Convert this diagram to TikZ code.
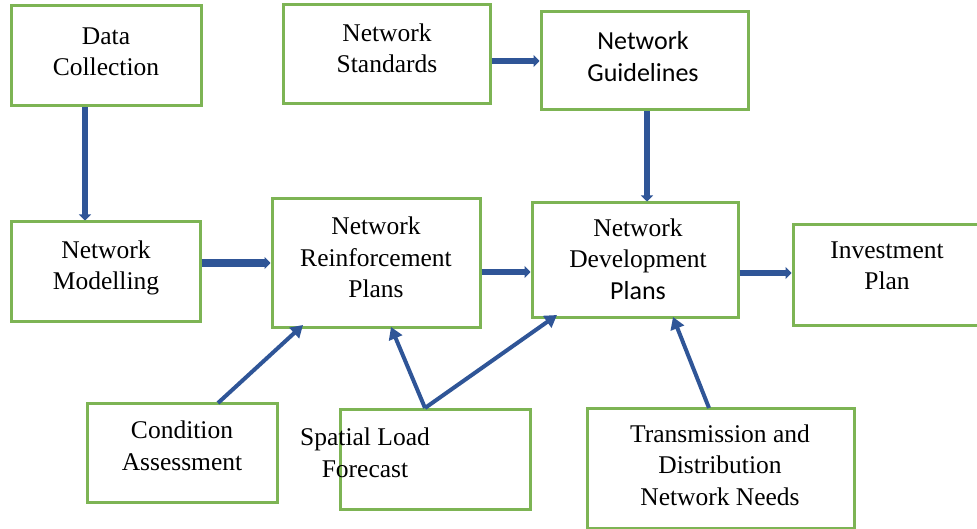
\documentclass[tikz,border=0pt]{standalone}
\usepackage{fontspec}
\setmainfont{Liberation Serif}
\newfontfamily\calfont{Carlito}
\usetikzlibrary{arrows.meta}
\definecolor{boxgreen}{HTML}{7DB454}
\definecolor{arrblue}{HTML}{2F5597}
\tikzset{
  box/.style={draw=boxgreen, line width=3pt, inner sep=0pt, rectangle},
  txt/.style={align=center, anchor=base, inner sep=0pt, font=\fontsize{25.5}{31.5}\selectfont},
  ctxt/.style={align=center, anchor=base, inner sep=0pt, font=\calfont\fontsize{26}{32}\selectfont},
  thick arrow/.style={draw=arrblue, line width=6pt, -{Triangle[length=6pt,width=12pt]}},
  thin arrow/.style={draw=arrblue, line width=4pt, -{Triangle[length=12pt,width=14pt]}},
}
\begin{document}
\begin{tikzpicture}[x=1pt,y=-1pt]
\useasboundingbox (0,0) rectangle (977,529);
\begin{scope}
\clip (0,0) rectangle (977,529);
% boxes
\node[box, minimum width=190, minimum height=100] (dc) at (106,56) {};
\node[box, minimum width=207, minimum height=99] (ns) at (386.5,54.5) {};
\node[box, minimum width=207, minimum height=98] (ng) at (644.5,61) {};
\node[box, minimum width=189, minimum height=99] (nm) at (105.5,271.5) {};
\node[box, minimum width=208, minimum height=128] (nr) at (376,263) {};
\node[box, minimum width=206, minimum height=114] (nd) at (635,260) {};
\node[box, minimum width=190, minimum height=100] (ip) at (888,275) {};
\node[box, minimum width=190, minimum height=99] (ca) at (182,452.5) {};
\node[box, minimum width=190, minimum height=100] (sl) at (435,459) {};
\node[box, minimum width=267, minimum height=120] (td) at (720.5,468) {};
\end{scope}
% texts
\node[txt] (tdc) at (106,76) {Data\\Collection};
\node[txt] (tns) at (387,73) {Network\\Standards};
\node[ctxt] (tng) at (643,82) {Network\\Guidelines};
\node[txt] (tnm) at (106,290) {Network\\Modelling};
\node[txt] (tnr) at (376,298) {Network\\Reinforcement\\Plans};
\node[txt] (tnd) at (638,268) {Network\\Development};
\node[ctxt] (tnd2) at (638,300) {Plans};
\node[txt] (tip) at (887,290) {Investment\\Plan};
\node[txt] (tca) at (182,470) {Condition\\Assessment};
\node[txt] (tsl) at (365,477) {Spatial Load\\Forecast};
\node[txt] (ttd) at (720,505) {Transmission and\\Distribution\\Network Needs};
% connectors
\draw[thick arrow] (dc.south -| 85,0) -- (nm.north -| 85,0);
\draw[thick arrow, line width=7.5pt] (nm.east |- 0,263) -- (nr.west |- 0,263);
\draw[thick arrow] (ns.east |- 0,61) -- (ng.west |- 0,61);
\draw[thick arrow] (ng.south -| 647,0) -- (nd.north -| 647,0);
\draw[thick arrow] (nr.east |- 0,272) -- (nd.west |- 0,272);
\draw[thick arrow] (nd.east |- 0,273) -- (ip.west |- 0,273);
\coordinate (ca1) at (218,403);
\coordinate (sl1) at (425,408);
\coordinate (td1) at (709,408);
\draw[thin arrow] (ca1) -- (303,325);
\draw[thin arrow] (sl1) -- (391,327);
\draw[thin arrow] (sl1) -- (557,315);
\draw[thin arrow] (td1) -- (673,317);
\end{tikzpicture}
\end{document}
